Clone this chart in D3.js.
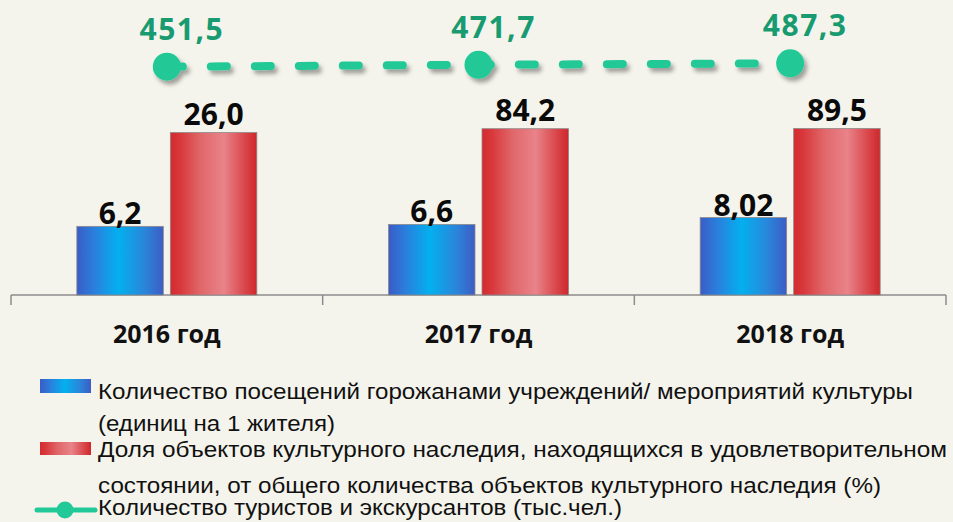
<!DOCTYPE html>
<html>
<head>
<meta charset="utf-8">
<script src="https://cdn.jsdelivr.net/npm/d3@7"></script>
<style>
    html, body { margin: 0; padding: 0; background: #f5f4ec; }
    svg { display: block; }
</style>
</head>
<body>
<div id="chart"></div>
<script>
// Chart values
const years = ["2016 год", "2017 год", "2018 год"];
const visits = [6.2, 6.6, 8.02];            // единиц на 1 жителя
const heritageShare = [26.0, 84.2, 89.5];   // %
const tourists = [451.5, 471.7, 487.3];     // тыс. чел.

const legendVisits = ["Количество посещений горожанами учреждений/ мероприятий культуры", "(единиц на 1 жителя)"];
const legendHeritage = ["Доля объектов культурного наследия, находящихся в удовлетворительном",
    "состоянии, от общего количества объектов культурного наследия (%)"];
const legendTourists = ["Количество туристов и экскурсантов (тыс.чел.)"];

const width = 953;
const height = 522;
const baseY = 295;

const ru = d3.formatLocale({ decimal: ",", thousands: " ", grouping: [3], currency: ["", " ₽"] });
const fmtVisits = ru.format(".3~g");
const fmt1 = ru.format(".1f");

const svg = d3.select("#chart")
    .append("svg")
    .attr("width", width)
    .attr("height", height);

svg.append("rect")
    .attr("width", width)
    .attr("height", height)
    .attr("fill", "#f5f4ec");

const defs = svg.append("defs");

function gradient(id, stops) {
    const g = defs.append("linearGradient")
        .attr("id", id)
        .attr("x1", "0%").attr("x2", "100%")
        .attr("y1", "0%").attr("y2", "0%");
    stops.forEach(s => g.append("stop").attr("offset", s[0]).attr("stop-color", s[1]));
}

gradient("blueGrad", [["0%", "#3a5cc6"], ["20%", "#2b7fdc"], ["48%", "#03b0ef"], ["78%", "#2a86da"], ["100%", "#3d5cc4"]]);
gradient("redGrad", [["0%", "#d42a2e"], ["12%", "#d8393d"], ["35%", "#e06769"], ["62%", "#e9838a"], ["85%", "#d9494d"], ["100%", "#cf272b"]]);

const shadow = defs.append("filter")
    .attr("id", "shadow")
    .attr("x", "-20%").attr("y", "-50%")
    .attr("width", "140%").attr("height", "200%");
shadow.append("feDropShadow")
    .attr("dx", 3).attr("dy", 4)
    .attr("stdDeviation", 2)
    .attr("flood-color", "#000")
    .attr("flood-opacity", 0.35);

// Scales
const x = d3.scaleBand()
    .domain(years)
    .range([11, 946])
    .padding(0);

const x1 = d3.scaleBand()
    .domain(["visits", "heritage"])
    .range([0, x.bandwidth()])
    .paddingInner(0.075)
    .paddingOuter(0.704);

// the source bars are far from proportional, so each series gets its own axis
const yVisits = d3.scaleLinear()
    .domain([-8, 10])
    .range([baseY, 208]);

const yHeritage = d3.scalePow()
    .exponent(0.02)
    .domain([0, 89.5])
    .range([baseY, 128.5]);

const yTourists = d3.scaleLinear()
    .domain([0, 500])
    .range([109.6, 62.1]);

const cx = d => x(d) + x.bandwidth() / 2;

// Axis line with category separators
const axis = svg.append("g").attr("stroke", "#8c8c8c").attr("stroke-width", 1.5);
axis.append("line")
    .attr("x1", x.range()[0]).attr("x2", x.range()[1])
    .attr("y1", baseY).attr("y2", baseY);
const seps = years.map(d => x(d)).concat([x.range()[1]]);
axis.selectAll(".sep")
    .data(seps)
    .enter()
    .append("line")
    .attr("x1", d => d).attr("x2", d => d)
    .attr("y1", baseY).attr("y2", baseY + 10);

svg.append("g")
    .selectAll("text")
    .data(years)
    .enter()
    .append("text")
    .attr("x", d => cx(d))
    .attr("y", 343)
    .attr("text-anchor", "middle")
    .attr("font-family", "'Open Sans', sans-serif")
    .attr("font-weight", 700)
    .attr("font-size", 25)
    .attr("fill", "#111")
    .text(d => d);

// Bars
const groups = svg.append("g")
    .selectAll("g")
    .data(years)
    .enter()
    .append("g")
    .attr("transform", d => `translate(${x(d)},0)`);

groups.append("rect")
    .attr("x", x1("visits"))
    .attr("width", x1.bandwidth())
    .attr("y", (d, i) => yVisits(visits[i]))
    .attr("height", (d, i) => baseY - yVisits(visits[i]))
    .attr("fill", "url(#blueGrad)")
    .attr("stroke", "#8a8a8a")
    .attr("stroke-width", 0.8);

groups.append("rect")
    .attr("x", x1("heritage"))
    .attr("width", x1.bandwidth())
    .attr("y", (d, i) => yHeritage(heritageShare[i]))
    .attr("height", (d, i) => baseY - yHeritage(heritageShare[i]))
    .attr("fill", "url(#redGrad)")
    .attr("stroke", "#8a8a8a")
    .attr("stroke-width", 0.8);

const barLabel = sel => sel
    .attr("text-anchor", "middle")
    .attr("font-family", "'Open Sans', sans-serif")
    .attr("font-weight", 700)
    .attr("font-size", 30)
    .attr("fill", "#0a0a0a");

groups.append("text")
    .call(barLabel)
    .attr("x", x1("visits") + x1.bandwidth() / 2)
    .attr("y", (d, i) => yVisits(visits[i]) - 2)
    .text((d, i) => fmtVisits(visits[i]));

groups.append("text")
    .call(barLabel)
    .attr("x", x1("heritage") + x1.bandwidth() / 2)
    .attr("y", (d, i) => yHeritage(heritageShare[i]) - 8)
    .text((d, i) => fmt1(heritageShare[i]));

// Tourists line
const lineColor = "#20c997";
const line = d3.line()
    .x((d, i) => cx(years[i]))
    .y(d => yTourists(d));

const lineG = svg.append("g").attr("filter", "url(#shadow)");
lineG.append("path")
    .datum(tourists)
    .attr("d", line)
    .attr("fill", "none")
    .attr("stroke", lineColor)
    .attr("stroke-width", 8)
    .attr("stroke-linecap", "round")
    .attr("stroke-dasharray", "16,28");

lineG.selectAll("circle")
    .data(tourists)
    .enter()
    .append("circle")
    .attr("cx", (d, i) => cx(years[i]))
    .attr("cy", d => yTourists(d))
    .attr("r", 14)
    .attr("fill", lineColor);

svg.append("g")
    .selectAll("text")
    .data(tourists)
    .enter()
    .append("text")
    .attr("x", (d, i) => cx(years[i]) + 15)
    .attr("y", d => yTourists(d) - 27)
    .attr("text-anchor", "middle")
    .attr("font-family", "'Open Sans', sans-serif")
    .attr("font-weight", 700)
    .attr("font-size", 30)
    .attr("letter-spacing", 1.5)
    .attr("fill", "#189b70")
    .text(d => fmt1(d));

// Legend
const legendFont = "'Liberation Sans Narrow', 'Liberation Sans', Arial, sans-serif";
const legend = svg.append("g");

legend.append("rect")
    .attr("x", 40).attr("y", 379)
    .attr("width", 51).attr("height", 14)
    .attr("fill", "url(#blueGrad)");

legend.append("rect")
    .attr("x", 40).attr("y", 442)
    .attr("width", 51).attr("height", 13)
    .attr("fill", "url(#redGrad)");

legend.append("line")
    .attr("x1", 37).attr("x2", 95)
    .attr("y1", 510).attr("y2", 510)
    .attr("stroke", lineColor)
    .attr("stroke-width", 5)
    .attr("stroke-linecap", "round");
legend.append("circle")
    .attr("cx", 65).attr("cy", 510)
    .attr("r", 8.5)
    .attr("fill", lineColor);

// text rows: [text, baseline y, stretched width]
const legendRows = [
    [legendVisits[0], 399, 815],
    [legendVisits[1], 431, 237],
    [legendHeritage[0], 457, 849],
    [legendHeritage[1], 493, 783],
    [legendTourists[0], 515, 524]
];

legend.selectAll(".lt")
    .data(legendRows)
    .enter()
    .append("text")
    .attr("x", 98)
    .attr("y", d => d[1])
    .attr("font-family", legendFont)
    .attr("font-size", 22.5)
    .attr("fill", "#111")
    .attr("textLength", d => d[2])
    .attr("lengthAdjust", "spacingAndGlyphs")
    .text(d => d[0]);
</script>
</body>
</html>
